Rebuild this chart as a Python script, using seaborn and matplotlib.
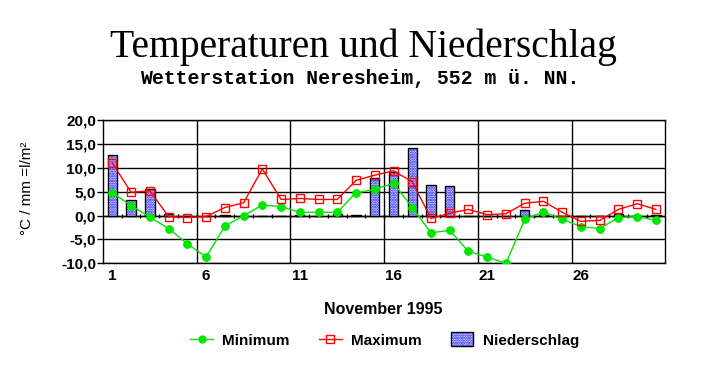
import numpy as np
import pandas as pd
import matplotlib
matplotlib.use("Agg")
import matplotlib.pyplot as plt
import seaborn as sns
from matplotlib.lines import Line2D
from matplotlib.patches import Patch
from matplotlib.legend_handler import HandlerTuple
from matplotlib.ticker import FuncFormatter, FixedLocator

# ---- data ----
days = list(range(1, 31))
t_min = [4.8, 2.1, -0.3, -2.7, -5.9, -8.7, -2.2, 0.0, 2.2, 1.9,
         0.7, 0.7, 0.7, 4.8, 5.5, 6.8, 1.7, -3.6, -3.1, -7.5,
         -8.7, -10.0, -0.8, 0.8, -0.8, -2.3, -2.7, -0.4, -0.2, -1.0]
t_max = [11.0, 4.9, 5.2, -0.2, -0.4, -0.2, 1.7, 2.7, 9.8, 3.4,
         3.6, 3.4, 3.4, 7.4, 8.5, 9.4, 7.1, -0.6, 0.5, 1.3,
         0.2, 0.4, 2.6, 3.0, 0.7, -1.2, -1.0, 1.3, 2.5, 1.3]
precip = [12.7, 3.2, 5.5, 0.3, 0.0, 0.0, 0.1, 0.0, 0.0, 0.0,
          0.1, 0.0, 0.4, 0.2, 7.8, 9.2, 14.1, 6.5, 6.3, 0.0,
          0.0, 0.0, 1.1, 0.2, 0.0, 0.0, 0.0, 0.4, 0.0, 0.2]
x_tick_days = [1, 6, 11, 16, 21, 26]
y_ticks = [-10, -5, 0, 5, 10, 15, 20]

title = "Temperaturen und Niederschlag"
subtitle = "Wetterstation Neresheim, 552 m ü. NN."
xlabel = "November 1995"
ylabel = "°C / mm =l/m²"
labels = ["Minimum", "Maximum", "Niederschlag"]

df = pd.DataFrame({"Tag": days, "Minimum": t_min, "Maximum": t_max,
                   "Niederschlag": precip})

GREEN = "#00e600"
RED = "#ff0000"
BLUE = "#0000ff"
SANS = "Liberation Sans"
HATCH = "......."

plt.rcParams["hatch.linewidth"] = 1.2
plt.rcParams["hatch.color"] = BLUE

fig = plt.figure(figsize=(7.23, 3.68), dpi=100)
W, H = 723, 368
ax = fig.add_axes([103 / W, 1 - 263.3 / H, (665.3 - 103) / W, (263.3 - 120.3) / H])

# bars: blue dotted fill, then black outline
sns.barplot(data=df, x="Tag", y="Niederschlag", native_scale=True, width=0.5,
            color="white", edgecolor=BLUE, linewidth=0, hatch=HATCH,
            ax=ax, zorder=3)
sns.barplot(data=df, x="Tag", y="Niederschlag", native_scale=True, width=0.5,
            fill=False, color="black", linewidth=1.0, ax=ax, zorder=3.1)

# lines
sns.lineplot(data=df, x="Tag", y="Minimum", color=GREEN, marker="o",
             markersize=5.5, markeredgecolor=GREEN, linewidth=1.0, ax=ax, zorder=4)
sns.lineplot(data=df, x="Tag", y="Maximum", color=RED, marker="s",
             markersize=6, markerfacecolor="none", markeredgecolor=RED,
             markeredgewidth=1.0, linewidth=1.0, ax=ax, zorder=4)

ax.set_xlim(0.5, 30.5)
ax.set_ylim(-10, 20)
ax.set_xlabel("")
ax.set_ylabel("")

# ticks / grid
ax.xaxis.set_major_locator(FixedLocator(x_tick_days))
ax.set_xticklabels([str(d) for d in x_tick_days])
ax.xaxis.set_minor_locator(FixedLocator([5.5, 10.5, 15.5, 20.5, 25.5]))
ax.tick_params(axis="x", which="both", length=0, pad=4)
ax.set_yticks(y_ticks)
ax.yaxis.set_major_formatter(FuncFormatter(lambda v, p: f"{v:.1f}".replace(".", ",")))
ax.tick_params(axis="y", direction="out", length=4, width=1, pad=1, color="black")
for lab in ax.get_xticklabels() + ax.get_yticklabels():
    lab.set_fontfamily(SANS)
    lab.set_fontweight("bold")
    lab.set_fontsize(11)
    lab.set_color("black")
ax.grid(axis="y", which="major", color="black", linewidth=1.0, zorder=1)
ax.grid(axis="x", which="minor", color="black", linewidth=1.0, zorder=1)
ax.grid(axis="x", which="major", visible=False)
ax.set_axisbelow(True)
ax.axhline(0, color="black", linewidth=1.0, zorder=2)
ax.vlines(np.arange(1.5, 30.5, 1.0), -0.6, 0.4, color="black", linewidth=1.0, zorder=2)
for s in ax.spines.values():
    s.set_color("black")
    s.set_linewidth(1.0)
ax.set_facecolor("white")

# texts
fig.text(363.5 / W, 1 - 57 / H, title, ha="center", va="baseline",
         fontfamily="Liberation Serif", fontsize=28.5, color="black")
fig.text(360 / W, 1 - 84 / H, subtitle, ha="center", va="baseline",
         fontfamily="Liberation Mono", fontweight="bold", fontsize=14.3, color="black")
fig.text(383 / W, 1 - 310 / H, xlabel, ha="center", va="center",
         fontfamily=SANS, fontweight="bold", fontsize=11.5, color="black")
fig.text(27 / W, 1 - 188 / H, ylabel, ha="center", va="center", rotation=90,
         fontfamily=SANS, fontsize=11, color="black")

# legend
h_min = Line2D([], [], color=GREEN, marker="o", markersize=5, markeredgecolor=GREEN, linewidth=1)
h_max = Line2D([], [], color=RED, marker="s", markersize=6, markerfacecolor="none",
               markeredgecolor=RED, linewidth=1)
h_bar = (Patch(facecolor="white", edgecolor=BLUE, hatch=HATCH, linewidth=0),
         Patch(fill=False, edgecolor="black", linewidth=1))
fig.legend([h_min, h_max, h_bar], labels, loc="center",
           bbox_to_anchor=(384.5 / W, 1 - 340 / H), ncol=3, frameon=False,
           handlelength=1.5, handleheight=1.0, handletextpad=0.6, columnspacing=1.9,
           handler_map={tuple: HandlerTuple(ndivide=1, pad=0)},
           prop={"family": SANS, "weight": "bold", "size": 11})

fig.savefig("out.png", dpi=100, facecolor="white")
